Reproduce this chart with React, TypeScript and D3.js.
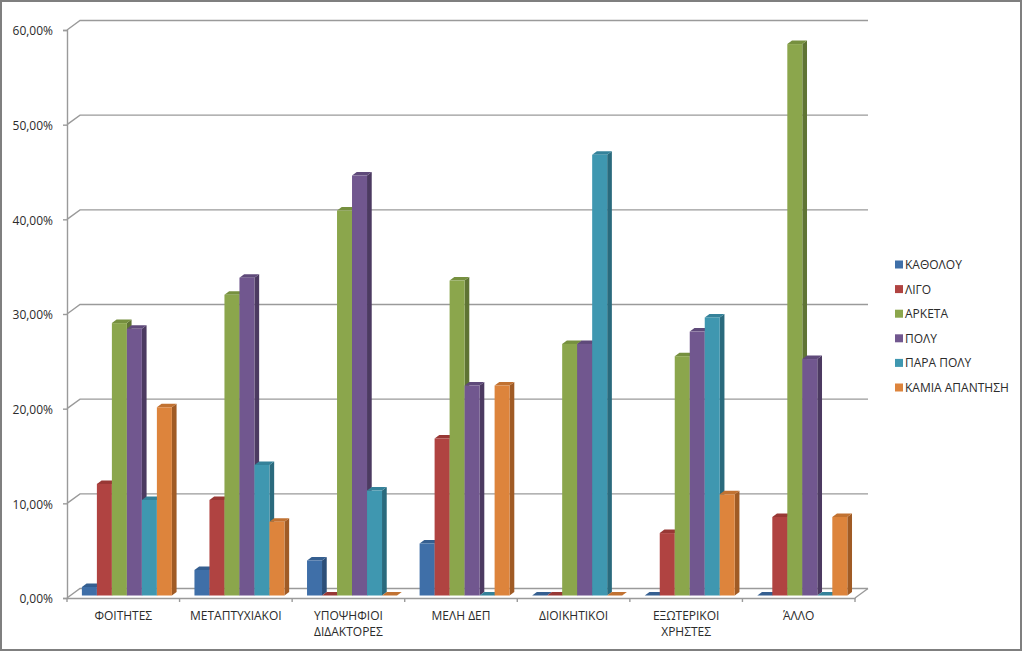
import React, { useEffect, useRef } from 'react';
import * as d3 from 'd3';

const categories = ['ΦΟΙΤΗΤΕΣ', 'ΜΕΤΑΠΤΥΧΙΑΚΟΙ', 'ΥΠΟΨΗΦΙΟΙ\nΔΙΔΑΚΤΟΡΕΣ', 'ΜΕΛΗ ΔΕΠ', 'ΔΙΟΙΚΗΤΙΚΟΙ', 'ΕΞΩΤΕΡΙΚΟΙ\nΧΡΗΣΤΕΣ', 'ΆΛΛΟ'];
const seriesNames = ['ΚΑΘΟΛΟΥ', 'ΛΙΓΟ', 'ΑΡΚΕΤΑ', 'ΠΟΛΥ', 'ΠΑΡΑ ΠΟΛΥ', 'ΚΑΜΙΑ ΑΠΑΝΤΗΣΗ'];
const katholou = [0.9, 2.7, 3.7, 5.5, 0, 0, 0];
const ligo = [11.8, 10.1, 0, 16.6, 0, 6.6, 8.3];
const arketa = [28.8, 31.8, 40.7, 33.3, 26.6, 25.3, 58.3];
const poly = [28.2, 33.6, 44.4, 22.2, 26.6, 27.9, 25];
const paraPoly = [10.1, 13.8, 11.1, 0, 46.6, 29.4, 0];
const kamia = [19.9, 7.8, 0, 22.2, 0, 10.7, 8.3];
const seriesValues = [katholou, ligo, arketa, poly, paraPoly, kamia];
const yTicks = [0, 10, 20, 30, 40, 50, 60];

const frontColors = ['#3f6fa8', '#b04341', '#8ba64c', '#71578f', '#3f97b0', '#dd843c'];
const sideColors = ['#2c4f79', '#7e2f2d', '#5f7434', '#4c3a61', '#2a6a7d', '#a05b25'];
const topColors = ['#355f90', '#983835', '#76903f', '#5f4a7a', '#35829a', '#c17232'];

const gridColor = '#9a9a9a';
const textColor = '#2b2b2b';
const fontFamily = '"Open Sans", sans-serif';

const width = 1023;
const height = 652;
const depth = { x: 13, y: 9.5 };
const barDepth = { x: 4.7, y: 3.5 };

export default function App() {
  const svgRef = useRef<SVGSVGElement>(null);

  useEffect(() => {
    const svg = d3.select(svgRef.current);
    svg.selectAll('*').remove();

    const x = d3.scaleBand().domain(categories).range([67, 855]);
    const y = d3.scaleLinear().domain([0, 60]).range([598, 30]);
    // bars stand half way into the floor, so they get their own baseline
    const yBar = d3.scaleLinear().domain([0, 60]).range([595.5, 28]);
    const x1 = d3.scaleBand().domain(seriesNames).range([0, 90]);
    const pct = d3.formatLocale({ decimal: ',', thousands: '.', grouping: [3], currency: ['', ''] }).format('.2f');

    // frame
    svg.append('rect')
      .attr('x', 1).attr('y', 1)
      .attr('width', width - 3).attr('height', height - 3)
      .attr('fill', 'white').attr('stroke', '#7f7f7f').attr('stroke-width', 2);

    // back wall lines and the diagonals from the axis
    const walls = svg.append('g').attr('stroke', gridColor).attr('stroke-width', 1.4).attr('fill', 'none');
    yTicks.forEach(t => {
      walls.append('path').attr('d', d3.line()([
        [67, y(t)],
        [67 + depth.x, y(t) - depth.y],
        [855 + depth.x, y(t) - depth.y],
      ]));
    });
    walls.append('path').attr('d', d3.line()([
      [855, y(0)],
      [855 + depth.x, y(0) - depth.y],
    ]));

    // axes
    const yAxis = svg.append('g')
      .attr('transform', 'translate(67,0)')
      .call(d3.axisLeft(y).tickValues(yTicks).tickSize(4).tickPadding(10).tickFormat(d => pct(d) + '%'));
    const xAxis = svg.append('g')
      .attr('transform', 'translate(0,598)')
      .call(d3.axisBottom(x).tickSize(0).tickFormat(() => ''));
    [yAxis, xAxis].forEach(a => {
      a.selectAll('path,line').attr('stroke', gridColor).attr('stroke-width', 1.4);
      a.select('.domain').attr('stroke', gridColor);
    });
    yAxis.selectAll('text')
      .attr('font-family', fontFamily).attr('font-size', 12).attr('fill', textColor)
      .attr('y', 1);

    // category ticks sit on band edges, not centres
    xAxis.selectAll('.cat-tick')
      .data(d3.range(categories.length + 1))
      .join('line')
      .attr('x1', i => 67 + i * x.bandwidth())
      .attr('x2', i => 67 + i * x.bandwidth())
      .attr('y1', 0).attr('y2', 4)
      .attr('stroke', gridColor).attr('stroke-width', 1.4);

    const labels = svg.append('g')
      .attr('font-family', fontFamily).attr('font-size', 12).attr('fill', textColor)
      .attr('text-anchor', 'middle');
    categories.forEach(c => {
      c.split('\n').forEach((line, i) => {
        labels.append('text')
          .attr('x', x(c) + x.bandwidth() / 2)
          .attr('y', 620 + i * 16)
          .text(line);
      });
    });

    // bars
    categories.forEach((c, ci) => {
      const center = x(c) + x.bandwidth() / 2 + 3.6;
      const g = svg.append('g').attr('transform', `translate(${center - 45},0)`);
      seriesNames.forEach((s, si) => {
        const v = seriesValues[si][ci];
        const x0 = x1(s);
        const x2 = x0 + x1.bandwidth();
        const top = yBar(v);
        const base = yBar(0);
        g.append('path')
          .attr('fill', sideColors[si])
          .attr('d', d3.line()([[x2, top], [x2 + barDepth.x, top - barDepth.y], [x2 + barDepth.x, base - barDepth.y], [x2, base]]) + 'Z');
        g.append('path')
          .attr('fill', topColors[si])
          .attr('d', d3.line()([[x0, top], [x0 + barDepth.x, top - barDepth.y], [x2 + barDepth.x, top - barDepth.y], [x2, top]]) + 'Z');
        g.append('rect')
          .attr('x', x0).attr('y', top)
          .attr('width', x1.bandwidth()).attr('height', base - top)
          .attr('fill', frontColors[si]);
      });
    });

    // legend
    const legendY = d3.scalePoint().domain(seriesNames).range([264.5, 387.5]);
    const legend = svg.append('g')
      .selectAll('g')
      .data(seriesNames)
      .join('g')
      .attr('transform', d => `translate(895,${legendY(d)})`);
    legend.append('rect')
      .attr('x', 0).attr('y', -4)
      .attr('width', 8).attr('height', 8)
      .attr('fill', (d, i) => frontColors[i]);
    legend.append('text')
      .attr('x', 10).attr('y', 4.5)
      .attr('font-family', fontFamily).attr('font-size', 12).attr('fill', textColor)
      .text(d => d);
  }, []);

  return (
    <svg
      ref={svgRef}
      width={width}
      height={height}
      style={{ position: 'fixed', left: 0, top: 0, display: 'block' }}
    />
  );
}
